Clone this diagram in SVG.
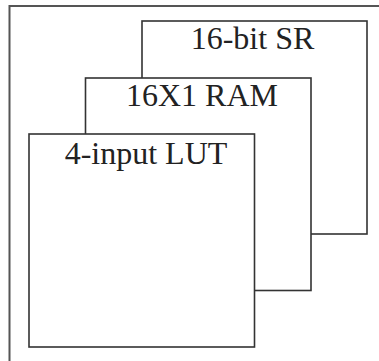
<svg xmlns="http://www.w3.org/2000/svg" width="379" height="361" viewBox="0 0 379 361">
<style>
.frame{fill:none;stroke:#555;stroke-width:2}
.box{fill:#fff;stroke:#333;stroke-width:1.6}
.lbl{font-family:"Liberation Serif","Times New Roman",serif;font-size:32px;fill:#222;text-anchor:middle}
</style>
<rect width="379" height="361" fill="#fff"/>
<rect class="frame" x="9.5" y="6" width="420" height="420"/>
<g id="sr">
<rect class="box" x="142" y="21" width="225" height="213"/>
<text class="lbl" x="252.5" y="48.5">16-bit SR</text>
</g>
<g id="ram">
<rect class="box" x="85.5" y="78" width="225.5" height="212.5"/>
<text class="lbl" x="202" y="105.5">16X1 RAM</text>
</g>
<g id="lut">
<rect class="box" x="29" y="134" width="225.5" height="213"/>
<text class="lbl" x="146" y="163.5">4-input LUT</text>
</g>
<g id="connectors"></g>
</svg>
